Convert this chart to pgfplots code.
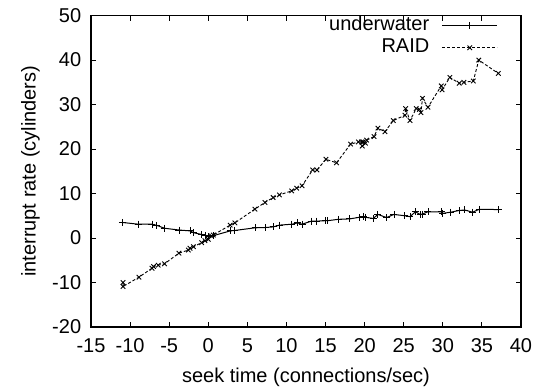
\documentclass[border=0pt]{standalone}
\usepackage{fontspec}
\setmainfont{Liberation Sans}
\usepackage{pgfplots}
\pgfplotsset{compat=1.18}
\begin{document}
\fontsize{20}{24}\selectfont
\begin{tikzpicture}
\begin{axis}[
  scale only axis, width=430pt, height=311.4pt,
  xmin=-15, xmax=40, ymin=-20, ymax=50,
  xtick distance=5, ytick distance=10,
  tick align=inside, major tick length=5pt,
  axis line style={line width=1.1pt},
  every tick/.style={line width=0.9pt, black},
  /pgf/number format/assume math mode=true,
  ticklabel style={font=\fontsize{20}{24}\selectfont},
  xticklabel style={yshift=-5pt},
  yticklabel style={xshift=-3pt},
  label style={font=\fontsize{20}{24}\selectfont},
  xlabel={seek time (connections/sec)},
  ylabel={interrupt rate (cylinders)},
  xlabel style={yshift=-1pt},
  ylabel style={yshift=-1pt},
  legend style={at={(1,1)}, anchor=north east, draw=none, fill=none,
    xshift=-20pt, yshift=1pt, font=\fontsize{20}{24}\selectfont,
    legend cell align=right, row sep=4pt, column sep=12pt,
    nodes={inner sep=0.5pt, text height=13.5pt, text depth=3.5pt}},
  legend plot pos=right,
  legend image code/.code={\draw[mark repeat=2,mark phase=2,#1] plot coordinates {(0pt,0pt) (27.5pt,0pt) (55pt,0pt)};},
]
\coordinate (bl) at (rel axis cs:0,0);
\coordinate (tr) at (rel axis cs:1,1);
\addplot[black, line width=1pt, mark=+, mark size=3.5pt, mark options={line width=0.9pt}] coordinates {
(-11,3.5) (-8.9,3.1) (-7.2,3.1) (-6.6,2.85) (-5.6,2.2) (-3.75,1.8) (-2.3,1.6) (-1.9,1.2) (-0.85,0.8) (-0.4,0.6) (0,0.3) (0.6,0.5) (2.8,1.6) (3.4,1.7) (6.0,2.3) (7.25,2.35) (8.3,2.5) (9.1,2.9) (10.7,3.1) (11.4,3.4) (12.0,3.1) (13.2,3.8) (13.9,3.8) (15.05,3.9) (15.3,3.9) (16.6,4.2) (18.1,4.3) (19.3,4.65) (19.8,4.8) (20.1,4.65) (21.1,4.4) (21.7,5.3) (22.8,4.6) (23.75,5.3) (25.15,5.0) (25.8,4.8) (26.5,5.9) (27.1,5.3) (27.4,5.4) (28.1,5.9) (29.8,5.9) (30.0,5.55) (31.0,5.8) (32.1,6.2) (32.8,6.3) (33.8,5.8) (34.65,6.45) (37.1,6.4)
};
\addlegendentry{underwater}
\addplot[black, line width=0.9pt, dash pattern=on 3pt off 2pt, mark=x, mark size=3.2pt, mark options={solid, line width=0.9pt}] coordinates {
(-10.9,-10.0) (-10.9,-10.9) (-8.86,-8.8) (-7.2,-6.8) (-7.0,-6.4) (-6.4,-6.1) (-5.6,-5.8) (-3.75,-3.4) (-2.55,-2.7) (-2.34,-2.3) (-1.9,-1.95) (-0.85,-1.05) (-0.42,-0.6) (0,-0.3) (0.43,0.45) (0.64,0.67) (2.8,2.9) (3.4,3.4) (5.97,6.5) (7.25,8.0) (8.3,9.1) (9.1,9.7) (10.67,10.6) (11.3,11.2) (12.0,11.75) (13.35,15.3) (13.9,15.3) (15.05,17.7) (16.4,16.9) (18.2,21.1) (19.2,21.6) (19.6,21.6) (19.8,21.6) (20.1,21.3) (19.7,20.7) (20.25,22.0) (21.2,22.8) (21.7,24.7) (22.6,23.9) (23.66,26.4) (25.15,27.6) (25.25,29.1) (25.8,26.4) (26.6,29.1) (27.0,28.9) (27.2,28.2) (27.4,31.4) (28.1,29.4) (29.8,34.2) (29.9,33.3) (30.9,36.1) (32.1,34.8) (32.7,35.0) (33.9,35.3) (34.6,40.0) (37.1,37.0)
};
\addlegendentry{RAID}
\end{axis}
\pgfresetboundingbox
\path ([shift={(-91pt,-63pt)}]bl) rectangle ([shift={(15pt,15.6pt)}]tr);
\end{tikzpicture}
\end{document}
